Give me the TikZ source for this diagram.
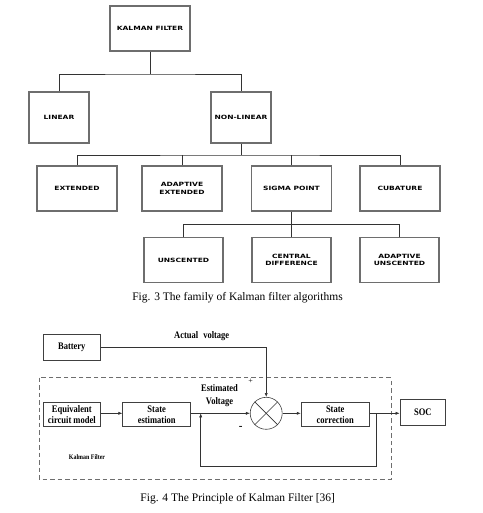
\documentclass[tikz,border=0pt]{standalone}
\usepackage{fontspec}
\setmainfont{Liberation Serif}
\newfontfamily\treefont[FakeStretch=1.3]{DejaVu Sans}
\newfontfamily\blockfont[FakeStretch=0.85]{Liberation Serif}
\usetikzlibrary{arrows.meta,positioning,calc}
\definecolor{boxgray}{RGB}{110,110,110}

\tikzset{
  treebox/.style={draw=boxgray, line width=1.3pt, fill=white, inner sep=0pt,
    align=center, font=\treefont\bfseries\fontsize{5.8}{7.6}\selectfont},
  treeline/.style={black!80, line width=0.9pt},
  blockbox/.style={draw=black!75, line width=0.6pt, inner sep=0pt, align=center,
    font=\blockfont\bfseries\fontsize{10}{11}\selectfont},
  sigline/.style={black!80, line width=0.6pt},
  sigarrow/.style={sigline, -{Latex[length=4pt,width=3.2pt]}},
}

\begin{document}
\begin{tikzpicture}[x=1pt,y=-1pt]
\useasboundingbox (0,0) rectangle (482,513);

% --- Fig. 3: the family tree (top) ---
\node[treebox, minimum width=80, minimum height=45] (kf) at (150,28.5) {KALMAN FILTER};
\node[treebox, minimum width=60, minimum height=51] (lin) at (59,117.5) {LINEAR};
\node[treebox, minimum width=60, minimum height=51] (nl) at (241,117.5) {NON-LINEAR};
% third row
\foreach \name/\x/\lab in {ext/77/EXTENDED, aext/182/ADAPTIVE\\EXTENDED,
    sig/291.5/SIGMA POINT, cub/400/CUBATURE} {
  \node[treebox, minimum width=80, minimum height=45] (\name) at (\x,188.5) {\lab};
}
% fourth row
\foreach \name/\x/\lab in {uns/183.5/UNSCENTED, cdk/291.5/CENTRAL\\DIFFERENCE,
    auns/399.5/ADAPTIVE\\UNSCENTED} {
  \node[treebox, minimum width=79, minimum height=45] (\name) at (\x,260) {\lab};
}
% bus bars
\coordinate (busA) at (150,74);
\coordinate (busB) at (241,155);
\coordinate (busC) at (291.5,224.3);
\draw[treeline] (kf.south) -- (busA);
\draw[treeline] (lin.north) |- (busA) -| (nl.north);
\draw[treeline] (nl.south) -- (busB);
\draw[treeline] (ext.north) |- (busB) -| (cub.north);
\draw[treeline] (aext.north) -- (aext.north |- busB);
\draw[treeline] (sig.north) -- (sig.north |- busB);
\draw[treeline] (sig.south) -- (busC);
\draw[treeline] (uns.north) |- (busC) -| (auns.north);
\draw[treeline] (cdk.north) -- (cdk.north |- busC);

\node[font=\fontsize{11.5}{13}\selectfont] (cap3) at (237.5,297.7) {Fig. 3 The family of Kalman filter algorithms};

% --- Fig. 4: principle of the Kalman filter (bottom) ---
\draw[boxgray, line width=0.7pt, dash pattern=on 4.5pt off 3pt] (39.3,377.7) rectangle (391,479.3);
\node[blockbox, minimum width=57, minimum height=26.4] (bat) at (71.8,347.5) {Battery};
\node[blockbox, minimum width=57, minimum height=24] (ecm) at (71.8,414.5) {Equivalent\\circuit model};
\node[blockbox, minimum width=68, minimum height=24] (sest) at (156.7,414.5) {State\\estimation};
\node[circle, draw=black!75, line width=0.6pt, minimum size=32, inner sep=0pt] (sum) at (266.2,413.3) {};
\draw[sigline] (sum.north west) -- (sum.south east);
\draw[sigline] (sum.north east) -- (sum.south west);
\node[blockbox, minimum width=68.3, minimum height=24] (scor) at (335.2,414.5) {State\\correction};
\node[blockbox, minimum width=45.7, minimum height=26] (soc) at (422.8,412.5) {SOC};

% labels
\node[font=\blockfont\bfseries\fontsize{10}{11}\selectfont] (actv) at (201.7,335.7) {Actual\enspace voltage};
\node[font=\fontsize{8}{9}\selectfont] (plus) at (250.7,381.7) {+};
\node[font=\blockfont\bfseries\fontsize{10}{12.4}\selectfont, align=center] (estv) at (219.5,395.5) {Estimated\\Voltage};
\node[font=\bfseries\fontsize{11}{12}\selectfont] (minus) at (240.7,427.8) {-};
\node[font=\blockfont\bfseries\fontsize{7}{8}\selectfont] (kflab) at (87,457.3) {Kalman Filter};

% signal lines
\coordinate (fbA) at (376.7,413.3);
\coordinate (fbB) at (200.7,413.3);
\draw[sigarrow] (bat.east |- 0,347.7) -| (sum.north);
\draw[sigarrow] (ecm.east |- fbB) -- (sest.west |- fbB);
\draw[sigarrow] (sest.east |- fbB) -- (sum.west);
\draw[sigarrow] (sum.east) -- (scor.west |- sum.east);
\draw[sigarrow] (scor.east |- fbA) -- (soc.west |- fbA);
\draw[sigarrow] (fbA) -- ++(0,53.4) -| (fbB);

\node[font=\fontsize{11.5}{13}\selectfont] (cap4) at (237.7,499) {Fig. 4 The Principle of Kalman Filter [36]};
\end{tikzpicture}
\end{document}
